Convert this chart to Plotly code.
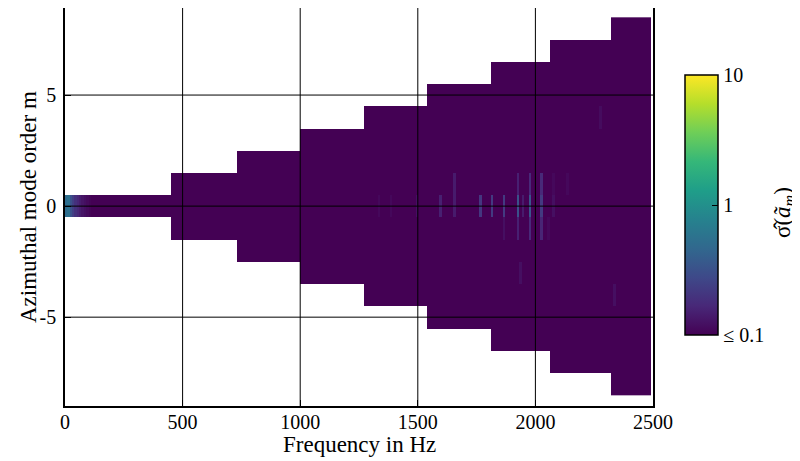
import numpy as np
import plotly.graph_objects as go

# ---------------- data ----------------
# frequency bins (Hz), bin width 10 Hz, centres
freq_step = 10
freq_max = 2490
freqs = np.arange(freq_step / 2, freq_max, freq_step)

# azimuthal mode orders
modes = list(range(-8, 9))

# cut-on frequency (Hz) for each |m| = 0..8
cuton_freqs = [0, 451, 731, 1003, 1275, 1543, 1811, 2062, 2317]

# background level (shown as "<= 0.1")
floor_value = 0.1

# low-frequency m = 0 values (Hz, value)
low_freq_f = [5, 15, 25, 35, 45, 55, 65, 75, 85, 95, 105]
low_freq_v = [0.5, 0.55, 0.32, 0.24, 0.19, 0.165, 0.145, 0.13, 0.12, 0.112, 0.105]

# isolated peaks: frequency (Hz), mode m, value
peak_f = [1335, 1386, 1491, 1599, 1655, 1655, 1761, 1817, 1868, 1868,
          1923, 1923, 1923, 1949, 1976, 1976, 1976, 2029, 2029, 2029,
          2054, 2080, 2080, 2136, 2279, 1934, 2334]
peak_m = [0, 0, 0, 0, 0, 1, 0, 0, 0, -1,
          0, 1, -1, 0, 0, 1, -1, 0, 1, -1,
          -1, 0, 1, 1, 4, -3, -4]
peak_v = [0.11, 0.11, 0.12, 0.15, 0.14, 0.14, 0.21, 0.22, 0.22, 0.12,
          0.32, 0.15, 0.15, 0.14, 0.34, 0.17, 0.17, 0.22, 0.17, 0.16,
          0.11, 0.12, 0.11, 0.11, 0.115, 0.12, 0.12]

x_ticks = [0, 500, 1000, 1500, 2000, 2500]
y_ticks = [-5, 0, 5]
y_ticktext = ["-5", "0", "5"]
cb_ticks = [0.1, 1, 10]
cb_ticktext = ["\u2264 0.1", "1", "10"]

# ---------------- build grid ----------------
Z = np.full((len(modes), len(freqs)), np.nan)
for i, m in enumerate(modes):
    mask = freqs >= cuton_freqs[abs(m)]
    Z[i, mask] = floor_value

def put(f, m, v):
    j = int(np.argmin(np.abs(freqs - f)))
    i = modes.index(m)
    if not np.isnan(Z[i, j]):
        Z[i, j] = v

for f, v in zip(low_freq_f, low_freq_v):
    put(f, 0, v)
for f, m, v in zip(peak_f, peak_m, peak_v):
    put(f, m, v)

Zlog = np.log10(Z)

font_family = "Liberation Serif"
tick_font = dict(family=font_family, size=20, color="black")

# figure drawn inside the page's 8px body margin
W, H = 792, 453
ML, MR, MT, MB = 57, 147, 0, 55
PW, PH = W - ML - MR, H - MT - MB

fig = go.Figure()
fig.add_trace(go.Heatmap(
    x=freqs, y=modes, z=Zlog,
    colorscale="Viridis", zmin=-1, zmax=1,
    hoverongaps=False,
    colorbar=dict(
        tickvals=list(np.log10(cb_ticks)), ticktext=cb_ticktext,
        ticks="inside", ticklen=6, tickcolor="black", tickwidth=1,
        outlinecolor="black", outlinewidth=1.5,
        thickness=33, len=260, lenmode="pixels",
        x=(677 - ML) / PW, xanchor="left", xpad=0,
        y=(PH - 197) / PH, yanchor="middle", ypad=0,
        tickfont=tick_font,
    ),
))

shapes = []
for xv in x_ticks[1:-1]:
    shapes.append(dict(type="line", xref="x", yref="paper", x0=xv, x1=xv, y0=0, y1=1,
                       line=dict(color="black", width=1), layer="above"))
for yv in y_ticks:
    shapes.append(dict(type="line", xref="paper", yref="y", x0=0, x1=1, y0=yv, y1=yv,
                       line=dict(color="black", width=1), layer="above"))

annotations = [
    dict(text="Frequency in Hz", xref="paper", yref="paper", x=0.5, y=(PH - 436) / PH,
         xanchor="center", yanchor="middle", showarrow=False,
         font=dict(family=font_family, size=23, color="black")),
    dict(text="Azimuthal mode order m", xref="paper", yref="paper", x=(20 - ML) / PW, y=0.5,
         xanchor="center", yanchor="middle", showarrow=False, textangle=-90,
         font=dict(family=font_family, size=23, color="black")),
    dict(text="σ\u0302(<i>ã</i><sub><i>m</i></sub>)", xref="paper", yref="paper",
         x=(776 - ML) / PW, y=(PH - 205) / PH,
         xanchor="center", yanchor="middle", showarrow=False, textangle=-90,
         font=dict(family=font_family, size=23, color="black")),
]

fig.update_layout(
    width=W, height=H,
    margin=dict(l=ML, r=MR, t=MT, b=MB, pad=0, autoexpand=False),
    paper_bgcolor="white", plot_bgcolor="white",
    font=dict(family=font_family, color="black"),
    shapes=shapes,
    annotations=annotations,
    xaxis=dict(
        range=[0, 2500], tickvals=x_ticks, ticktext=[str(v) for v in x_ticks],
        ticks="inside", ticklen=6, tickcolor="black",
        showgrid=False, zeroline=False, automargin=False,
        showline=True, mirror=True, linecolor="black", linewidth=1.5,
        layer="above traces", ticklabelstandoff=-3,
        tickfont=tick_font,
    ),
    yaxis=dict(
        range=[-9.0, 8.92], tickvals=y_ticks, ticktext=y_ticktext,
        ticks="inside", ticklen=6, tickcolor="black",
        showgrid=False, zeroline=False, automargin=False,
        showline=True, mirror=True, linecolor="black", linewidth=1.5,
        layer="above traces", ticklabelstandoff=3,
        tickfont=tick_font,
    ),
)

fig.write_html("out.html")
